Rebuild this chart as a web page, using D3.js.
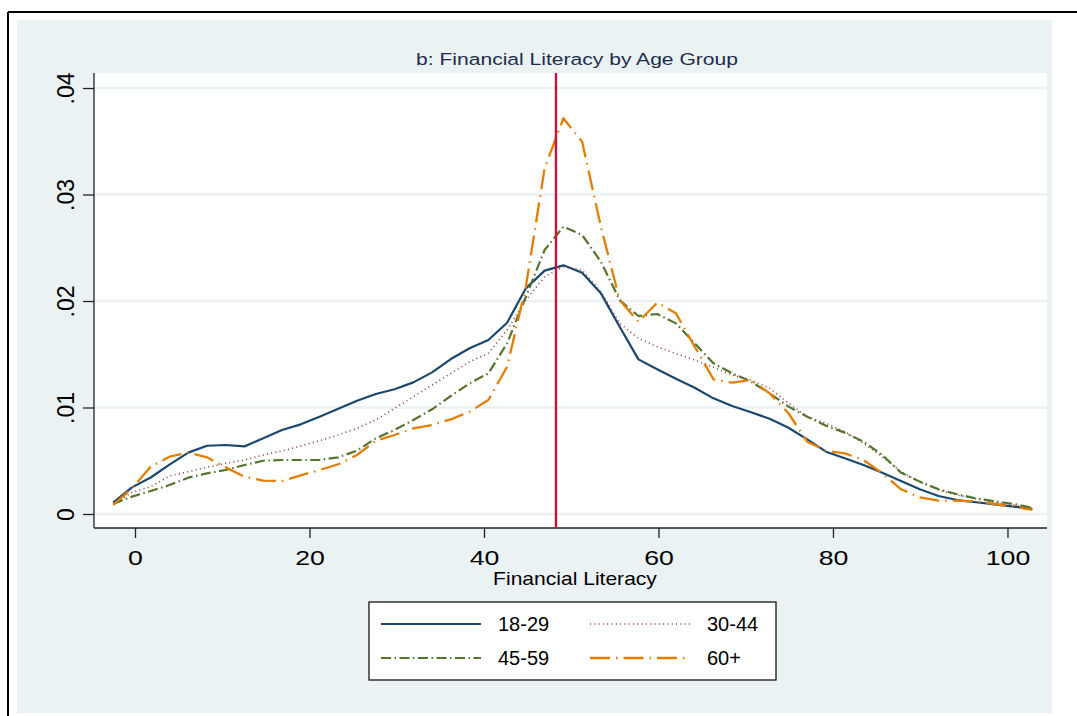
<!DOCTYPE html>
<html>
<head>
<meta charset="utf-8">
<script src="https://cdn.jsdelivr.net/npm/d3@7"></script>
<style>
  html, body { margin: 0; padding: 0; background: #ffffff; }
  svg { display: block; font-family: "Liberation Sans", Arial, sans-serif; }
</style>
</head>
<body>
<svg id="chart" width="1077" height="716"></svg>
<script>
// Kernel density of the financial literacy score, by age group
const scores = [-2.5, -0.35, 1.8, 3.95, 6.1, 8.25, 10.4, 12.55, 14.7, 16.85,
  19.0, 21.15, 23.3, 25.45, 27.6, 29.75, 31.9, 34.05, 36.2, 38.35,
  40.5, 42.65, 44.8, 46.95, 49.1, 51.25, 53.4, 55.55, 57.7, 59.85,
  62.0, 64.15, 66.3, 68.45, 70.6, 72.75, 74.9, 77.05, 79.2, 81.35,
  83.5, 85.65, 87.8, 89.95, 92.1, 94.25, 96.4, 98.55, 100.7, 102.85];

const age18_29 = [0.00106, 0.0025, 0.00343, 0.00463, 0.00576, 0.00641, 0.00648, 0.00635, 0.00711, 0.00789,
  0.00842, 0.00914, 0.00989, 0.01064, 0.01127, 0.01171, 0.01236, 0.0133, 0.01455, 0.01556,
  0.01634, 0.01796, 0.02119, 0.02285, 0.02335, 0.02266, 0.02072, 0.01759, 0.01452, 0.01359,
  0.0127, 0.01186, 0.01086, 0.01014, 0.00955, 0.00895, 0.0081, 0.00701, 0.00585, 0.00523,
  0.0046, 0.00388, 0.0031, 0.00232, 0.00169, 0.00131, 0.0011, 0.00091, 0.00069, 0.00047];

const age30_44 = [0.0009, 0.00203, 0.00257, 0.00357, 0.00397, 0.00438, 0.00476, 0.00507, 0.00554, 0.00592,
  0.00638, 0.00688, 0.00742, 0.00805, 0.00883, 0.00992, 0.01101, 0.01211, 0.01321, 0.0143,
  0.01509, 0.01728, 0.02009, 0.02228, 0.02322, 0.02291, 0.02087, 0.0179, 0.0165, 0.01571,
  0.01505, 0.01446, 0.01377, 0.01305, 0.01258, 0.0118, 0.0104, 0.00914, 0.00852, 0.00773,
  0.00664, 0.00538, 0.00397, 0.00304, 0.00225, 0.00178, 0.00141, 0.0011, 0.00085, 0.00054];

const age45_59 = [0.00095, 0.00163, 0.00216, 0.00272, 0.00341, 0.00382, 0.00413, 0.0046, 0.005, 0.00507,
  0.00507, 0.00507, 0.00532, 0.00595, 0.00711, 0.00789, 0.00883, 0.00983, 0.01108, 0.01227,
  0.01321, 0.01603, 0.0204, 0.02479, 0.02698, 0.0262, 0.02369, 0.02009, 0.01859, 0.01878,
  0.0179, 0.01603, 0.01415, 0.01321, 0.01243, 0.01133, 0.01008, 0.00914, 0.00829, 0.00764,
  0.00679, 0.00554, 0.00388, 0.00304, 0.00232, 0.00185, 0.00147, 0.00119, 0.00094, 0.00059];

const age60plus = [0.00085, 0.00241, 0.00444, 0.00538, 0.00576, 0.00532, 0.00438, 0.0035, 0.00313, 0.0031,
  0.00363, 0.00413, 0.00467, 0.00554, 0.00688, 0.00742, 0.00805, 0.00836, 0.00889, 0.00961,
  0.0107, 0.01383, 0.02134, 0.03246, 0.03716, 0.03496, 0.02698, 0.02009, 0.01806, 0.01984,
  0.01884, 0.01571, 0.01265, 0.01233, 0.01258, 0.01133, 0.00946, 0.00679, 0.00594, 0.0057,
  0.00507, 0.00382, 0.00232, 0.00157, 0.00125, 0.00125, 0.00116, 0.00094, 0.00069, 0.00038];

const groupNames = ["18-29", "30-44", "45-59", "60+"];
const xTicks = [0, 20, 40, 60, 80, 100];
const yTicks = [0, 0.01, 0.02, 0.03, 0.04];
const yTickLabels = ["0", ".01", ".02", ".03", ".04"];
const meanScore = 48.25;

const chartTitle = "b: Financial Literacy by Age Group";
const xTitle = "Financial Literacy";

// Visual styling per group (Stata s2color look)
const styles = [
  { color: "#1a476f", width: 2.2, dash: null },
  { color: "#90353b", width: 1.6, dash: "1 3.3" },
  { color: "#55752f", width: 2.2, dash: "10 3.5 1.5 3.5" },
  { color: "#e37e00", width: 2.3, dash: "20 6 1.5 6" }
];
const seriesValues = [age18_29, age30_44, age45_59, age60plus];

const svg = d3.select("#chart");

// Outer frame and graph region
svg.append("rect").attr("x", 0).attr("y", 0).attr("width", 1077).attr("height", 716).attr("fill", "#ffffff");
svg.append("line").attr("x1", 8).attr("x2", 1077).attr("y1", 12).attr("y2", 12)
  .attr("stroke", "#000").attr("stroke-width", 2);
svg.append("line").attr("x1", 8).attr("x2", 8).attr("y1", 12).attr("y2", 716)
  .attr("stroke", "#000").attr("stroke-width", 2);
svg.append("rect").attr("x", 17).attr("y", 20).attr("width", 1035).attr("height", 693)
  .attr("fill", "#eaf2f3");

// Plot region
const plot = { left: 94, right: 1047, top: 73, bottom: 528 };
svg.append("rect").attr("x", plot.left).attr("y", plot.top)
  .attr("width", plot.right - plot.left).attr("height", plot.bottom - plot.top)
  .attr("fill", "#ffffff");

const x = d3.scaleLinear().domain([-4.70, 104.53]).range([plot.left, plot.right]);
const y = d3.scaleLinear().domain([-0.001315, 0.04141]).range([plot.bottom, plot.top]);

// Horizontal grid lines
svg.append("g").selectAll("line").data(yTicks).join("line")
  .attr("x1", plot.left).attr("x2", plot.right)
  .attr("y1", d => y(d)).attr("y2", d => y(d))
  .attr("stroke", "#eaf2f3").attr("stroke-width", 2.5);

// Y axis
const yAxis = d3.axisLeft(y).tickValues(yTicks)
  .tickFormat((d, i) => yTickLabels[i]).tickSize(11).tickPadding(9);
const gy = svg.append("g").attr("transform", `translate(${plot.left},0)`).call(yAxis);
gy.select(".domain").attr("stroke", "#222").attr("stroke-width", 1.3)
  .attr("d", `M0,${plot.top}V${plot.bottom}`);
gy.selectAll(".tick line").attr("stroke", "#222").attr("stroke-width", 1.3);
gy.selectAll(".tick text")
  .attr("font-family", "Liberation Sans, Arial, sans-serif")
  .attr("font-size", 23).attr("fill", "#000")
  .attr("text-anchor", "middle")
  .attr("x", null).attr("y", 0).attr("dy", 0)
  .attr("transform", "translate(-20,0) rotate(-90)");

// X axis
const xAxis = d3.axisBottom(x).tickValues(xTicks).tickFormat(d3.format("d"))
  .tickSize(10).tickPadding(6);
const gx = svg.append("g").attr("transform", `translate(0,${plot.bottom})`).call(xAxis);
gx.select(".domain").attr("stroke", "#222").attr("stroke-width", 1.3)
  .attr("d", `M${plot.left},0H${plot.right}`);
gx.selectAll(".tick line").attr("stroke", "#222").attr("stroke-width", 1.3);
gx.selectAll(".tick text")
  .attr("font-family", "Liberation Sans, Arial, sans-serif")
  .attr("font-size", 21).attr("fill", "#000")
  .attr("dy", 0).attr("y", 37)
  .attr("transform", "scale(1.27,1)");

// Axis title
svg.append("text")
  .attr("transform", "translate(575,585) scale(1.17,1)")
  .attr("text-anchor", "middle").attr("font-size", 18).attr("fill", "#000")
  .text(xTitle);

// Chart title
svg.append("text")
  .attr("transform", "translate(577,65) scale(1.24,1)")
  .attr("text-anchor", "middle").attr("font-size", 17).attr("fill", "#1e2c4e")
  .text(chartTitle);

// Density curves
const line = d3.line().x((d, i) => x(scores[i])).y(d => y(d));
const curves = svg.append("g");
seriesValues.forEach((vals, i) => {
  const s = styles[i];
  curves.append("path").datum(vals)
    .attr("d", line)
    .attr("fill", "none")
    .attr("stroke", s.color)
    .attr("stroke-width", s.width)
    .attr("stroke-linejoin", "round")
    .attr("stroke-dasharray", s.dash);
});

// Vertical reference line at the mean score
svg.append("line")
  .attr("x1", x(meanScore)).attr("x2", x(meanScore))
  .attr("y1", plot.top).attr("y2", plot.bottom)
  .attr("stroke", "#c8143c").attr("stroke-width", 2.4);

// Legend
const legend = svg.append("g");
legend.append("rect").attr("x", 369).attr("y", 602).attr("width", 407).attr("height", 78)
  .attr("fill", "#ffffff").attr("stroke", "#000").attr("stroke-width", 1.2);
const legendPos = [
  { lx: 381, tx: 498, cy: 624 },
  { lx: 590, tx: 707, cy: 624 },
  { lx: 381, tx: 498, cy: 658 },
  { lx: 590, tx: 707, cy: 658 }
];
groupNames.forEach((name, i) => {
  const p = legendPos[i], s = styles[i];
  legend.append("line")
    .attr("x1", p.lx).attr("x2", p.lx + 100).attr("y1", p.cy).attr("y2", p.cy)
    .attr("stroke", s.color).attr("stroke-width", s.width)
    .attr("stroke-dasharray", s.dash);
  legend.append("text").attr("x", p.tx).attr("y", p.cy + 7)
    .attr("font-size", 20).attr("fill", "#000").text(name);
});
</script>
</body>
</html>
